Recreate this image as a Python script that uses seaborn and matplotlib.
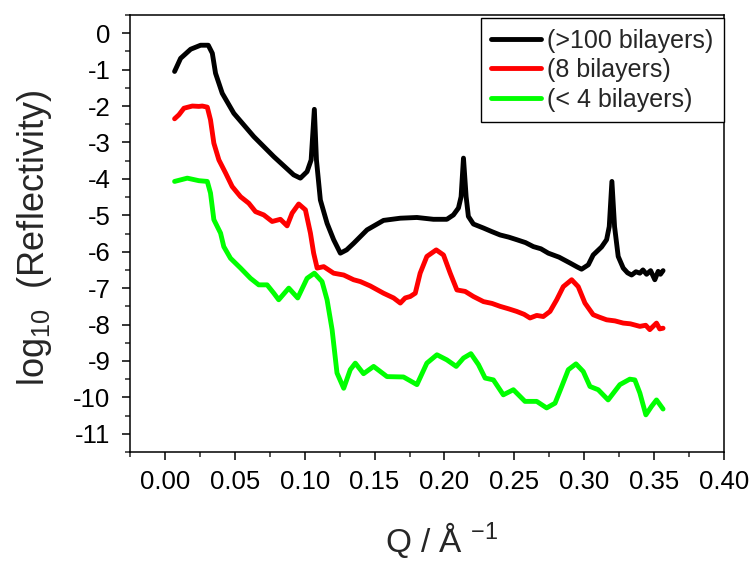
import numpy as np
import pandas as pd
import matplotlib
matplotlib.use("Agg")
import matplotlib.pyplot as plt
from matplotlib.ticker import MultipleLocator, FormatStrFormatter
import seaborn as sns

# ---------------- data ----------------
labels = ["(>100 bilayers)", "(8 bilayers)", "(< 4 bilayers)"]
colors = ["#000000", "#ff0000", "#00ff00"]

q_black = [0.0069, 0.0112, 0.0184, 0.0255, 0.0310, 0.0339, 0.0362, 0.0410, 0.0493,
           0.0636, 0.0779, 0.0921, 0.0969, 0.1017, 0.1046, 0.1069, 0.1084, 0.1112,
           0.1160, 0.1207, 0.1255, 0.1300, 0.1350, 0.1446, 0.1564, 0.1684, 0.1803,
           0.1921, 0.2017, 0.2064, 0.2100, 0.2119, 0.2136, 0.2155, 0.2171, 0.2207,
           0.2279, 0.2340, 0.2398, 0.2460, 0.2517, 0.2580, 0.2636, 0.2690, 0.2743,
           0.2820, 0.2898, 0.2950, 0.2981, 0.3029, 0.3064, 0.3124, 0.3160, 0.3179,
           0.3198, 0.3217, 0.3243, 0.3279, 0.3310, 0.3339, 0.3370, 0.3398, 0.3420,
           0.3446, 0.3475, 0.3505, 0.3529, 0.3545, 0.3564]
r_black = [-1.05, -0.69, -0.44, -0.33, -0.33, -0.55, -1.10, -1.65, -2.20,
           -2.84, -3.39, -3.89, -3.98, -3.80, -3.48, -2.09, -3.48, -4.58,
           -5.22, -5.67, -6.04, -5.95, -5.77, -5.40, -5.14, -5.08, -5.06,
           -5.11, -5.11, -4.99, -4.80, -4.49, -3.43, -4.49, -5.03, -5.24,
           -5.35, -5.45, -5.54, -5.60, -5.67, -5.75, -5.86, -5.92, -6.04,
           -6.15, -6.31, -6.42, -6.48, -6.36, -6.09, -5.87, -5.67, -5.31,
           -4.07, -5.31, -6.13, -6.45, -6.58, -6.64, -6.55, -6.59, -6.50,
           -6.62, -6.52, -6.77, -6.54, -6.62, -6.52]

q_red = [0.0069, 0.0100, 0.0136, 0.0196, 0.0243, 0.0267, 0.0303, 0.0326, 0.0350,
         0.0386, 0.0434, 0.0481, 0.0541, 0.0600, 0.0648, 0.0707, 0.0767, 0.0826,
         0.0874, 0.0910, 0.0957, 0.1005, 0.1041, 0.1064, 0.1089, 0.1136, 0.1207,
         0.1279, 0.1350, 0.1398, 0.1469, 0.1564, 0.1636, 0.1684, 0.1719, 0.1755,
         0.1791, 0.1826, 0.1874, 0.1941, 0.1993, 0.2041, 0.2089, 0.2148, 0.2207,
         0.2279, 0.2340, 0.2398, 0.2460, 0.2517, 0.2570, 0.2612, 0.2660, 0.2707,
         0.2755, 0.2803, 0.2850, 0.2910, 0.2957, 0.3005, 0.3064, 0.3110, 0.3160,
         0.3220, 0.3279, 0.3330, 0.3398, 0.3440, 0.3469, 0.3517, 0.3540, 0.3564]
r_red = [-2.35, -2.24, -2.06, -2.00, -2.01, -2.00, -2.03, -2.38, -3.02,
         -3.48, -3.84, -4.21, -4.49, -4.67, -4.90, -4.99, -5.17, -5.11,
         -5.29, -4.94, -4.69, -4.85, -5.49, -6.04, -6.45, -6.41, -6.59,
         -6.64, -6.77, -6.82, -6.94, -7.14, -7.27, -7.41, -7.27, -7.23,
         -7.14, -6.59, -6.13, -5.95, -6.09, -6.59, -7.05, -7.09, -7.23,
         -7.37, -7.42, -7.50, -7.57, -7.64, -7.72, -7.82, -7.75, -7.78,
         -7.64, -7.32, -6.96, -6.77, -6.96, -7.41, -7.73, -7.80, -7.87,
         -7.90, -7.96, -7.98, -8.05, -8.02, -8.14, -7.96, -8.12, -8.10]

q_green = [0.0069, 0.0160, 0.0243, 0.0303, 0.0326, 0.0350, 0.0398, 0.0421, 0.0469,
           0.0541, 0.0612, 0.0671, 0.0731, 0.0779, 0.0814, 0.0886, 0.0950, 0.1017,
           0.1069, 0.1124, 0.1160, 0.1196, 0.1231, 0.1279, 0.1326, 0.1362, 0.1421,
           0.1493, 0.1589, 0.1707, 0.1803, 0.1874, 0.1946, 0.2017, 0.2084, 0.2136,
           0.2189, 0.2243, 0.2291, 0.2350, 0.2421, 0.2493, 0.2576, 0.2660, 0.2731,
           0.2791, 0.2839, 0.2886, 0.2941, 0.2993, 0.3041, 0.3100, 0.3171, 0.3255,
           0.3326, 0.3362, 0.3398, 0.3441, 0.3481, 0.3517, 0.3564]
r_green = [-4.07, -3.98, -4.05, -4.07, -4.39, -5.12, -5.49, -5.86, -6.18,
           -6.45, -6.73, -6.91, -6.91, -7.14, -7.32, -7.00, -7.27, -6.73,
           -6.59, -6.82, -7.32, -8.14, -9.33, -9.75, -9.24, -9.06, -9.35,
           -9.15, -9.43, -9.44, -9.65, -9.06, -8.83, -8.97, -9.15, -8.92,
           -8.80, -9.10, -9.47, -9.52, -9.93, -9.79, -10.11, -10.11, -10.29,
           -10.16, -9.70, -9.24, -9.08, -9.29, -9.70, -9.79, -10.07, -9.65,
           -9.50, -9.52, -9.88, -10.48, -10.25, -10.07, -10.32]

x_ticks = [0.00, 0.05, 0.10, 0.15, 0.20, 0.25, 0.30, 0.35, 0.40]
y_ticks = [0, -1, -2, -3, -4, -5, -6, -7, -8, -9, -10, -11]

# ---------------- build long-form table ----------------
df = pd.concat([
    pd.DataFrame({"Q": q_black, "R": r_black, "sample": labels[0]}),
    pd.DataFrame({"Q": q_red, "R": r_red, "sample": labels[1]}),
    pd.DataFrame({"Q": q_green, "R": r_green, "sample": labels[2]}),
], ignore_index=True)

sns.set_style("ticks")
plt.rcParams["font.family"] = ["Liberation Sans", "DejaVu Sans"]
plt.rcParams["axes.unicode_minus"] = False
plt.rcParams["mathtext.fontset"] = "custom"
plt.rcParams["mathtext.rm"] = "Liberation Sans"
plt.rcParams["mathtext.it"] = "Liberation Sans:italic"

fig = plt.figure(figsize=(7.51, 5.63), dpi=100)
ax = fig.add_axes([130 / 751, 111 / 563, 594 / 751, 437 / 563])

sns.lineplot(data=df, x="Q", y="R", hue="sample", hue_order=labels,
             palette=colors, linewidth=3.5, sort=False, estimator=None, ax=ax)

ax.set_xlim(-0.025, 0.40)
ax.set_ylim(-11.5, 0.5)
ax.set_xticks(x_ticks)
ax.set_yticks(y_ticks)
ax.xaxis.set_major_formatter(FormatStrFormatter("%.2f"))
ax.yaxis.set_major_formatter(FormatStrFormatter("%d"))
ax.xaxis.set_minor_locator(MultipleLocator(0.025))
ax.yaxis.set_minor_locator(MultipleLocator(0.5))
ax.tick_params(which="major", direction="out", length=6, width=1.1,
               labelsize=18.5, colors="black")
ax.tick_params(axis="x", which="major", pad=7)
ax.tick_params(axis="y", which="major", pad=8)
ax.tick_params(which="minor", direction="out", length=3.5, width=1.1)
ax.tick_params(top=False, right=False, which="both")
for s in ax.spines.values():
    s.set_linewidth(1.1)
    s.set_color("black")

ax.set_xlabel(r"Q / Å $^{-1}$", fontsize=24)
ax.set_ylabel(r"log$_{10}$  (Reflectivity)", fontsize=26)
ax.xaxis.set_label_coords(0.525, -0.155)
ax.yaxis.set_label_coords(-0.128, 0.49)

leg = ax.legend(loc="upper right", bbox_to_anchor=(1.0, 0.993), borderaxespad=0,
                fontsize=18, frameon=True, fancybox=False, edgecolor="black",
                framealpha=1, borderpad=0.42, handlelength=2.0, handletextpad=0.25,
                labelspacing=0.22, title=None)
leg.get_frame().set_linewidth(1.0)
for line in leg.get_lines():
    line.set_linewidth(3.5)

fig.savefig("out.png", dpi=100)
